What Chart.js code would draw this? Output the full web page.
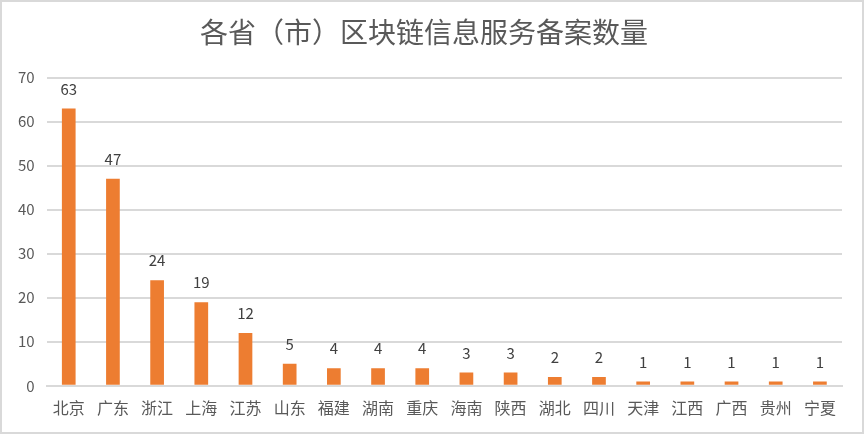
<!DOCTYPE html>
<html>
<head>
<meta charset="utf-8">
<script src="https://cdn.jsdelivr.net/npm/chart.js@4/dist/chart.umd.min.js"></script>
<style>
  html, body { margin: 0; padding: 0; background: #fff; }
  .frame { width: 860px; height: 430px; border: 2px solid #d9d9d9; position: relative; }
  canvas { display: block; }
</style>
</head>
<body>
<div class="frame"><canvas id="c" width="860" height="430"></canvas></div>
<script>
const provinces = ['北京', '广东', '浙江', '上海', '江苏', '山东', '福建', '湖南', '重庆', '海南', '陕西', '湖北', '四川', '天津', '江西', '广西', '贵州', '宁夏'];
const counts = [63, 47, 24, 19, 12, 5, 4, 4, 4, 3, 3, 2, 2, 1, 1, 1, 1, 1];
const yTicks = [0, 10, 20, 30, 40, 50, 60, 70];

const FONT = '"Noto Sans CJK SC", "Noto Sans", sans-serif';

// draw the value above each bar
const valueLabels = {
    id: 'valueLabels',
    afterDatasetsDraw(chart) {
        const ctx = chart.ctx;
        const meta = chart.getDatasetMeta(0);
        ctx.save();
        ctx.font = '15px ' + FONT;
        ctx.fillStyle = '#404040';
        ctx.textAlign = 'center';
        ctx.textBaseline = 'bottom';
        meta.data.forEach((bar, i) => {
            ctx.fillText(String(counts[i]), bar.x, bar.y - 12);
        });
        ctx.restore();
    }
};

new Chart(document.getElementById('c'), {
    type: 'bar',
    data: {
        labels: provinces,
        datasets: [{
            data: counts,
            backgroundColor: '#ED7D31',
            categoryPercentage: 1,
            barPercentage: 0.31
        }]
    },
    options: {
        responsive: false,
        animation: false,
        layout: { padding: { left: 4, right: 20, top: 4, bottom: 9 } },
        plugins: {
            legend: { display: false },
            tooltip: { enabled: false },
            title: {
                display: true,
                text: '各省（市）区块链信息服务备案数量',
                color: '#595959',
                font: { family: FONT, size: 28, weight: 'normal' },
                padding: { top: 10, bottom: 28 }
            }
        },
        scales: {
            x: {
                grid: { display: false },
                border: { color: '#d9d9d9', width: 2 },
                ticks: { color: '#595959', font: { family: FONT, size: 16 }, maxRotation: 0, autoSkip: false, padding: 5 }
            },
            y: {
                min: 0,
                max: yTicks[yTicks.length - 1],
                afterBuildTicks(axis) { axis.ticks = yTicks.map(v => ({ value: v })); },
                grid: { color: '#d9d9d9', lineWidth: 2, drawTicks: false },
                border: { display: false },
                ticks: { color: '#595959', font: { family: FONT, size: 15 }, padding: 12 }
            }
        }
    },
    plugins: [valueLabels]
});
</script>
</body>
</html>
